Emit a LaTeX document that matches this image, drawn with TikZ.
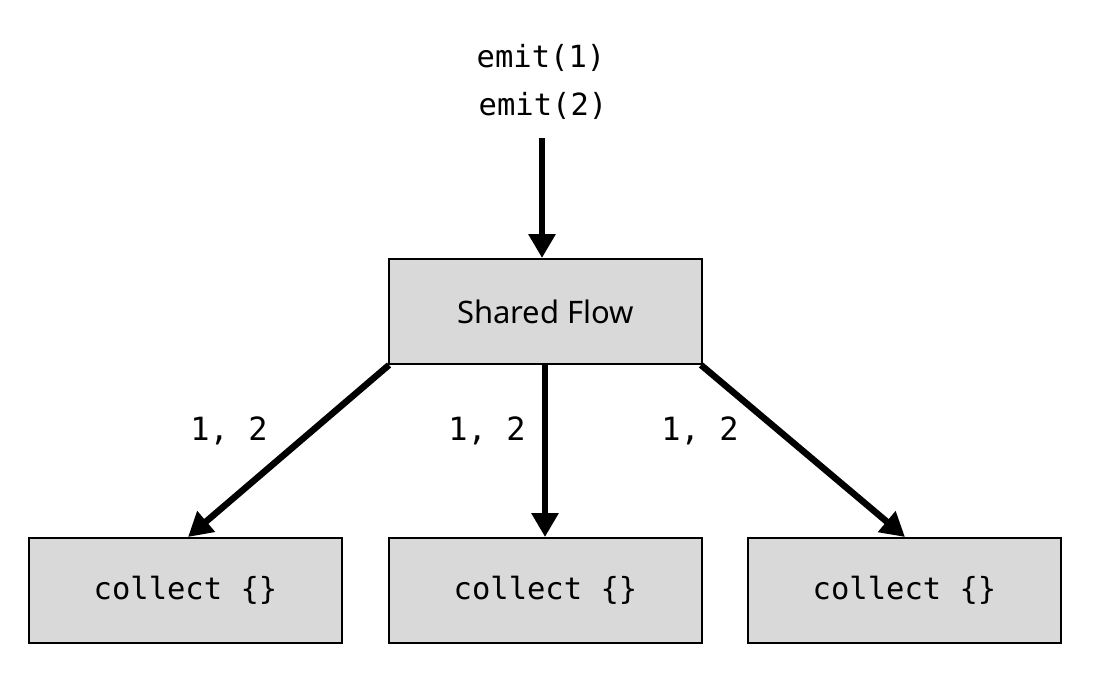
\documentclass[tikz,border=0pt]{standalone}
\usepackage{fontspec}
\setmainfont{Noto Sans}
\newfontfamily\codefont{DejaVu Sans Mono}
\usetikzlibrary{arrows.meta}
\definecolor{boxgray}{HTML}{D9D9D9}
\tikzset{
  box/.style={draw=black, line width=2pt, fill=boxgray, minimum width=313pt, minimum height=105pt, inner sep=0pt, anchor=north west},
  code/.style={font=\codefont\fontsize{30.5}{36}\selectfont, inner sep=0pt},
  lbl/.style={font=\codefont\fontsize{32}{36}\selectfont, inner sep=0pt},
  flow/.style={line width=6.5pt, -{Triangle[length=24pt,width=26pt]}}
}
\begin{document}
\begin{tikzpicture}[x=1pt,y=-1pt]
\useasboundingbox (0,0) rectangle (1100,681);
\node[box] (sf) at (388,258) {\fontsize{31}{36}\selectfont Shared Flow};
\node[box] (c1) at (28,537) {\codefont\fontsize{30.5}{36}\selectfont collect \{\}};
\node[box] (c2) at (388,537) {\codefont\fontsize{30.5}{36}\selectfont collect \{\}};
\node[box] (c3) at (747,537) {\codefont\fontsize{30.5}{36}\selectfont collect \{\}};
\node[code] (e1) at (541,58) {emit(1)};
\node[code] (e2) at (543,106) {emit(2)};
\coordinate (top) at (542,138);
\node[lbl] (l1) at (229,431) {1, 2};
\node[lbl] (l2) at (487,431) {1, 2};
\node[lbl] (l3) at (700,431) {1, 2};
\draw[flow] (top) -- (sf.north -| top);
\draw[flow] ([xshift=1pt]sf.south west) -- ([xshift=160pt]c1.north west);
\draw[flow] (sf.south -| 545,0) -- (c2.north -| 545,0);
\draw[flow] ([xshift=-2pt]sf.south east) -- ([xshift=158pt]c3.north west);
\end{tikzpicture}
\end{document}
